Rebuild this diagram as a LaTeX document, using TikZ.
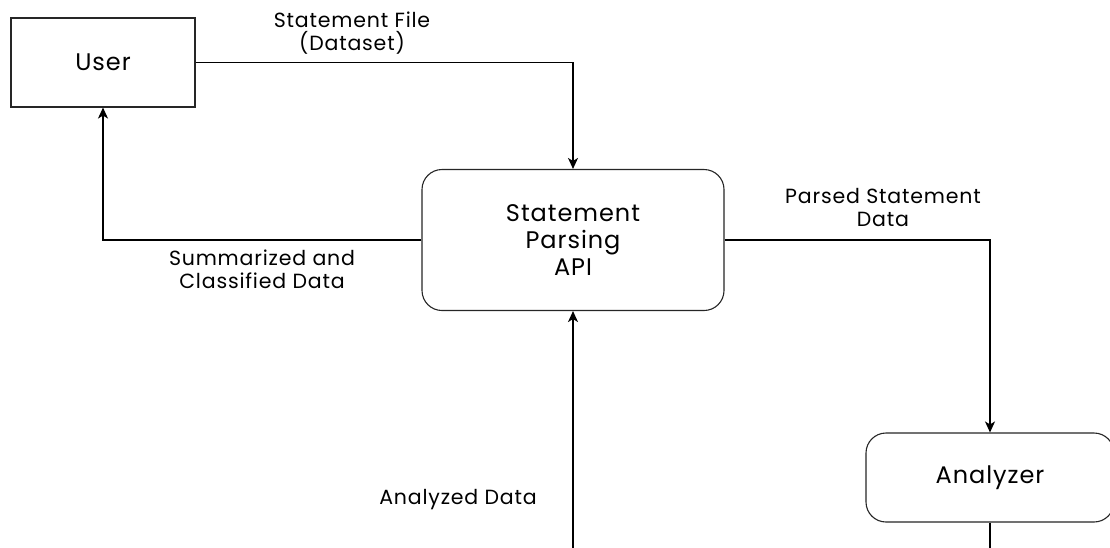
\documentclass[tikz,border=0pt]{standalone}
\usepackage{fontspec}
\setmainfont{Poppins}[LetterSpace=4]
\usetikzlibrary{arrows.meta,positioning}
\begin{document}
\begin{tikzpicture}[x=1pt,y=-1pt,
  box/.style={draw=black!85, line width=1.1pt, fill=white, align=center, inner sep=0pt},
  rbox/.style={box, rounded corners=20pt},
  flow/.style={draw=black, line width=1.3pt, -{Stealth[length=11pt,width=10pt,inset=3pt]}},
  lbl/.style={font=\fontsize{20.5}{23}\selectfont, align=center, inner sep=0pt},
  btxt/.style={font=\fontsize{24}{27}\selectfont}]
  \path[use as bounding box] (0,0) rectangle (1110,547);
  \clip (0,0) rectangle (1110,547);

  % entities and processes
  \node[box, btxt, minimum width=184pt, minimum height=89pt] (user) at (103,62.5) {User};
  \node[rbox, btxt, minimum width=302pt, minimum height=141pt] (api) at (573,240) {Statement\\Parsing\\API};
  \node[rbox, btxt, minimum width=248pt, minimum height=89pt] (ana) at (990,477.5) {Analyzer};

  % data flows
  \draw[flow] (user.east) -| (api.north);
  \draw[flow] (api.west) -| (user.south);
  \draw[flow] (api.east) -| (ana.north);
  \draw[flow] (ana.south) -- ++(0,60) -| (api.south);

  % flow labels
  \node[lbl] (lfile) at (352,33.5) {Statement File\\(Dataset)};
  \node[lbl] (lsum) at (262,269.5) {Summarized and\\Classified Data};
  \node[lbl] (lparsed) at (883,207.5) {Parsed Statement\\Data};
  \node[lbl] (lanalyzed) at (458,500) {Analyzed Data};
\end{tikzpicture}
\end{document}
